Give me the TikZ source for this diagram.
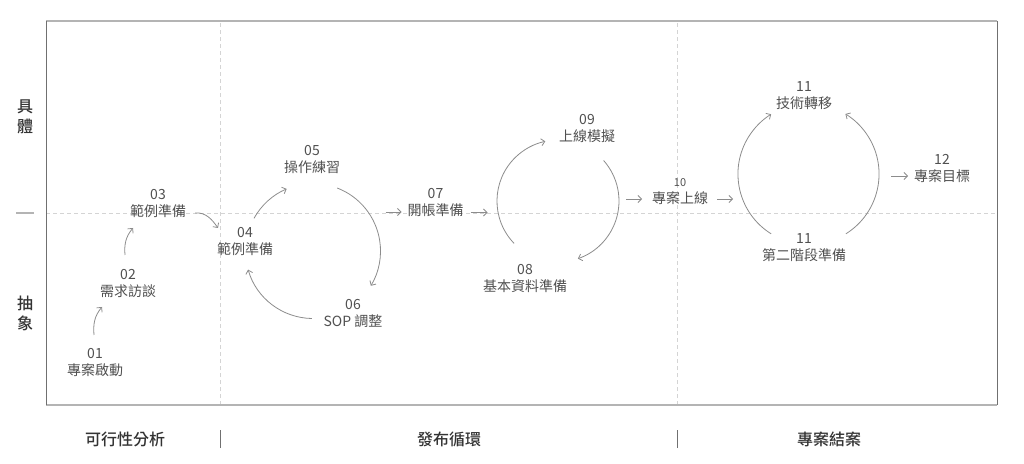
\documentclass[tikz,border=0pt]{standalone}
\usepackage{fontspec}
\setmainfont{Noto Sans CJK TC}
\newfontfamily\labelfont{Noto Sans CJK TC Medium}
\usetikzlibrary{arrows.meta}
\definecolor{flowtext}{HTML}{505050}
\definecolor{flowline}{HTML}{8C8C8C}
\definecolor{guideline}{HTML}{D4D4D4}
\definecolor{framedark}{HTML}{707070}
\definecolor{framelight}{HTML}{B4B4B4}
\definecolor{labeltext}{HTML}{333333}
\tikzset{
  stage/.style={align=center,inner sep=1pt,text=flowtext,font=\fontsize{14}{17}\selectfont},
  flow/.style={draw=flowline,line width=0.8pt,-{Straight Barb[length=3.5pt,width=7pt]}},
  guide/.style={draw=guideline,line width=0.8pt,dash pattern=on 4pt off 3pt},
  axislabel/.style={align=center,inner sep=1pt,text=labeltext,font=\labelfont\fontsize{16}{20}\selectfont}
}

\begin{document}
\begin{tikzpicture}[x=1pt,y=1pt]
  \useasboundingbox (0,0) rectangle (1024,463);
  \draw[guide] (46,250) -- (997,250);
  \draw[guide] (220,58) -- (220,442);
  \draw[guide] (677,58) -- (677,442);
  \draw[framelight,line width=1.2pt] (46,442) -- (997,442);
  \draw[framelight,line width=1.2pt] (46,58) -- (997,58);
  \draw[framedark,line width=1pt] (46,58) -- (46,442);
  \draw[framedark,line width=1pt] (997,58) -- (997,442);
  \draw[framelight,line width=1.2pt] (16,250) -- (34,250);
  \draw[framedark,line width=1pt] (220,15) -- (220,33);
  \draw[framedark,line width=1pt] (677,15) -- (677,33);

  \node[axislabel] (concrete) at (25,346) {具\\體};
  \node[axislabel] (abstract) at (25,150) {抽\\象};
  \node[axislabel] (phase1) at (125,24) {可行性分析};
  \node[axislabel] (phase2) at (449,24) {發布循環};
  \node[axislabel] (phase3) at (829,24) {專案結案};

  \node[stage] (n01) at (95,100) {01\\專案啟動};
  \node[stage] (n02) at (128,179.5) {02\\需求訪談};
  \node[stage] (n03) at (158,259.5) {03\\範例準備};
  \node[stage] (n04) at (245,221) {04\\範例準備};
  \node[stage] (n05) at (312,303.5) {05\\操作練習};
  \node[stage] (n06) at (353,150) {06\\SOP 調整};
  \node[stage] (n07) at (435.5,260.5) {07\\開帳準備};
  \node[stage] (n08) at (525,184) {08\\基本資料準備};
  \node[stage] (n09) at (587,335) {09\\上線模擬};
  \node[stage] (n10) at (680,271) {{\fontsize{11}{14}\selectfont 10}\\專案上線};
  \node[stage] (n11a) at (804,367.5) {11\\技術轉移};
  \node[stage] (n11b) at (804,215) {11\\第二階段準備};
  \node[stage] (n12) at (942,294.5) {12\\專案目標};

  \draw[flow] ([shift={(-1,28)}]n01.center) to[out=95,in=-130] ([shift={(-26,-23.5)}]n02.center);
  \draw[flow] ([shift={(-3,28.5)}]n02.center) to[out=95,in=-130] ([shift={(-25,-24.5)}]n03.center);
  \draw[flow] ([shift={(37,-9.5)}]n03.center) to[out=5,in=125] ([shift={(-27,14)}]n04.center);
  \draw[flow] ([shift={(9,23.7)}]n04.center) arc[start angle=151,end angle=113,radius=67.5];
  \draw[flow] ([shift={(25.2,-28.5)}]n05.center) arc[start angle=69,end angle=-31,radius=67.5];
  \draw[flow] ([shift={(-41.2,-5.5)}]n06.center) arc[start angle=-91,end angle=-164,radius=67.5];
  \draw[flow] ([shift={(-50,-9.5)}]n07.center) -- ([shift={(-34,-9.5)}]n07.center);
  \draw[flow] ([shift={(35,-10)}]n07.center) -- ([shift={(52,-10)}]n07.center);
  \draw[flow] ([shift={(-10.9,35.6)}]n08.center) arc[start angle=224,end angle=102,radius=61];
  \draw[flow] ([shift={(16.6,-32.5)}]n09.center) arc[start angle=41.6,end angle=-71,radius=61];
  \draw[flow] ([shift={(-54,-7)}]n10.center) -- ([shift={(-38,-7)}]n10.center);
  \draw[flow] ([shift={(37,-7)}]n10.center) -- ([shift={(53,-7)}]n10.center);
  \draw[flow] ([shift={(-32.9,14.2)}]n11b.center) arc[start angle=238,end angle=122,radius=70.5];
  \draw[flow] ([shift={(41.9,14.2)}]n11b.center) arc[start angle=-58,end angle=58.5,radius=70.5];
  \draw[flow] ([shift={(-51,-7.5)}]n12.center) -- ([shift={(-34,-7.5)}]n12.center);
\end{tikzpicture}
\end{document}
